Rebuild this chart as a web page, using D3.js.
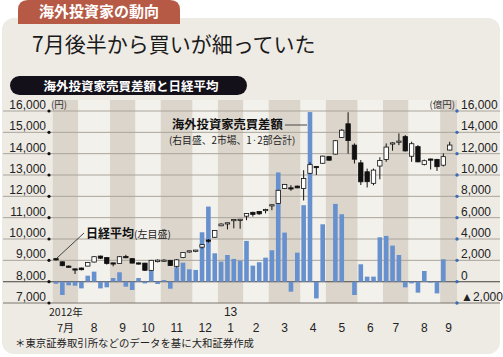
<!DOCTYPE html>
<html><head><meta charset="utf-8">
<script src="https://cdn.jsdelivr.net/npm/d3@7"></script>
<style>
body{margin:0;background:#fff;}
text{font-family:"Liberation Sans","Noto Sans CJK JP",sans-serif;}
.jp{font-family:"Noto Sans CJK JP",sans-serif;}
</style></head>
<body>
<script>
// ---- data (weekly, from week ending 2012-07-06 to 2013-09-13) ----
const weeks = ["2012-07-06","07-13","07-20","07-27","08-03","08-10","08-17","08-24","08-31","09-07","09-14","09-21","09-28","10-05","10-12","10-19","10-26","11-02","11-09","11-16","11-22","11-30","12-07","12-14","12-21","12-28","2013-01-04","01-11","01-18","01-25","02-01","02-08","02-15","02-22","03-01","03-08","03-15","03-22","03-29","04-05","04-12","04-19","04-26","05-02","05-10","05-17","05-24","05-31","06-07","06-14","06-21","06-28","07-05","07-12","07-19","07-26","08-02","08-09","08-16","08-23","08-30","09-06","09-13"];
const nikkeiOpen  = [9080,8930,8730,8600,8640,8730,8920,9200,9130,8880,8850,9180,9080,8880,8870,8530,8940,8970,9000,8720,9130,9440,9470,9620,9950,10080,10620,10750,10900,10910,11070,11250,11290,11370,11600,11670,12370,12400,12480,12370,13080,13400,13550,13860,13980,14760,15400,14400,13570,13150,12610,13420,13730,14480,14580,14800,13880,14330,13500,13750,13730,13460,14170];
const nikkeiHigh  = [9100,8950,8760,8610,8660,8920,9200,9220,9150,8890,9190,9260,9100,8900,8880,9020,9040,9050,9010,9060,9380,9460,9490,9750,10000,10420,10740,10770,10930,10940,11210,11280,11310,11420,11620,12300,12580,12526,12500,13225,13600,13420,13910,13880,14640,15150,15942,14480,13700,13300,13300,13830,14480,14540,14950,14870,14560,14400,13720,13770,13760,14010,14560];
const nikkeiLow   = [8990,8720,8650,8360,8530,8720,8900,9060,8800,8720,8840,9100,8860,8800,8500,8510,8900,8930,8740,8660,9100,9360,9380,9550,9830,10050,10600,10450,10500,10480,10880,11050,11130,11200,11350,11650,12340,12260,12380,11805,13030,13000,13520,13670,13960,14740,14000,13540,12530,12415,12520,12800,13620,14140,14400,14100,13620,13600,13450,13260,13190,13400,14150];
const nikkeiClose = [9020,8750,8690,8590,8560,8900,9170,9100,8850,8870,9170,9120,8870,8863,8534,9000,9010,9010,8757,9024,9366,9446,9480,9737,9900,10395,10700,10760,10913,10926,11191,11153,11180,11385,11606,12283,12560,12390,12397,12833,13485,13390,13884,13694,14607,15100,14612,13740,12680,12686,13230,13677,14309,14506,14589,14129,14466,13615,13670,13740,13389,13860,14404];
// foreign investors' net buying (100 million yen); last week not yet published
const foreignNet = [-200,-1250,-340,-380,-630,560,940,-630,-530,340,880,-470,-780,340,-160,1030,-220,150,-660,1350,1780,1160,1100,4630,7040,2660,1880,2500,2130,1970,3820,1500,1820,2250,2940,10240,4600,-940,2720,7170,15900,-1570,5380,0,7290,6320,0,-1250,1630,470,470,4160,4290,3380,2500,-530,-160,-1030,1000,-90,-1100,2100,null];
// month blocks: label and index of first week in each month
const monthLabels = ["7月","8","9","10","11","12","1","2","3","4","5","6","7","8","9"];
const monthStart  = [0,4,9,13,17,22,26,30,34,39,43,48,52,56,61];
const leftTicks  = [7000,8000,9000,10000,11000,12000,13000,14000,15000,16000];
const rightTicks = [-2000,0,2000,4000,6000,8000,10000,12000,14000,16000];

const fmt = d3.format(",");
const W = 503, H = 357;
const svg = d3.select("body").append("svg").attr("width", W).attr("height", H);

// panel
svg.append("rect").attr("x",2).attr("y",18).attr("width",498).attr("height",336).attr("rx",12).attr("fill","#eeebe5");
// tab
svg.append("path").attr("d","M18,24 L18,10 Q18,0 28,0 L170,0 Q180,0 180,10 L180,24 Z").attr("fill","#b65a45");
svg.append("text").attr("class","jp").attr("x",99).attr("y",17).attr("text-anchor","middle")
  .attr("fill","#fff").attr("font-weight","bold").attr("font-size",15).text("海外投資家の動向");
// title
svg.append("text").attr("class","jp").attr("x",32).attr("y",52).attr("fill","#1a1a1a")
  .attr("font-size",21).text("7月後半から買いが細っていた");
// black pill
svg.append("rect").attr("x",10).attr("y",76).attr("width",237).attr("height",19).attr("rx",9.5).attr("fill","#14101a");
svg.append("text").attr("class","jp").attr("x",131).attr("y",90.5).attr("text-anchor","middle")
  .attr("fill","#fff").attr("font-weight","bold").attr("font-size",12.5).text("海外投資家売買差額と日経平均");

// scales
const x = d3.scaleLinear().domain([0, 62]).range([56, 449.7]);
const yL = d3.scaleLinear().domain([7000, 16000]).range([303, 111]);
const yR = d3.scaleLinear().domain([-2000, 16000]).range([303, 111]);
const plotTop = 100, plotBottom = 303, plotRight = 457;

// month bands
const g = svg.append("g");
monthStart.forEach((s, k) => {
  const x0 = x(s - 0.5);
  const x1 = k < monthStart.length - 1 ? x(monthStart[k+1] - 0.5) : plotRight;
  g.append("rect").attr("x", x0).attr("y", plotTop).attr("width", x1 - x0).attr("height", plotBottom - plotTop)
    .attr("fill", k % 2 === 0 ? "#dcd5cb" : "#f3f1ec");
});

// gridlines
leftTicks.forEach(v => {
  g.append("line").attr("x1",3).attr("x2",500).attr("y1",yL(v)).attr("y2",yL(v))
    .attr("stroke", v === 7000 ? "#7a756e" : "#aaa49b").attr("stroke-width",1);
});
// zero line of right axis
g.append("line").attr("x1",3).attr("x2",500).attr("y1",yR(0)).attr("y2",yR(0)).attr("stroke","#6e6a66").attr("stroke-width",1.2);

// bars
const bw = 4.6;
g.selectAll(".bar").data(foreignNet.map((v,i)=>({v,i})).filter(d=>d.v!==null && d.v!==0))
  .enter().append("rect")
  .attr("x", d => x(d.i) - bw/2)
  .attr("y", d => Math.min(yR(d.v), yR(0)))
  .attr("width", bw)
  .attr("height", d => Math.abs(yR(d.v) - yR(0)))
  .attr("fill", "#6790cf");

// candlesticks
const cw = 4.4;
const candles = nikkeiOpen.map((o,i)=>({i,o,h:nikkeiHigh[i],l:nikkeiLow[i],c:nikkeiClose[i]}));
const cg = g.selectAll(".c").data(candles).enter().append("g");
cg.append("line").attr("x1",d=>x(d.i)).attr("x2",d=>x(d.i))
  .attr("y1",d=>yL(d.h)).attr("y2",d=>yL(d.l)).attr("stroke","#111").attr("stroke-width",1);
cg.append("rect")
  .attr("x",d=>x(d.i)-cw/2)
  .attr("y",d=>yL(Math.max(d.o,d.c)))
  .attr("width",cw)
  .attr("height",d=>Math.max(1.2, Math.abs(yL(d.o)-yL(d.c))))
  .attr("fill",d=>d.c>=d.o ? "#fff" : "#111")
  .attr("stroke","#111").attr("stroke-width",0.8);

// annotations
svg.append("text").attr("class","jp").attr("x",172).attr("y",129).attr("font-weight","bold")
  .attr("font-size",12.3).attr("fill","#111").text("海外投資家売買差額");
svg.append("line").attr("x1",285).attr("x2",307).attr("y1",125).attr("y2",125).attr("stroke","#333").attr("stroke-width",0.9);
svg.append("text").attr("class","jp").attr("x",169).attr("y",144).attr("font-size",9.8)
  .attr("fill","#222").text("(右目盛、2市場、1·2部合計)");
svg.append("text").attr("class","jp").attr("x",86).attr("y",238).attr("font-weight","bold")
  .attr("font-size",12).attr("fill","#111").text("日経平均");
svg.append("text").attr("class","jp").attr("x",134).attr("y",238).attr("font-size",10)
  .attr("fill","#222").text("(左目盛)");
svg.append("line").attr("x1",84).attr("y1",233).attr("x2",57).attr("y2",258).attr("stroke","#333").attr("stroke-width",0.9);

// left axis labels
leftTicks.forEach(v => {
  svg.append("text").attr("x",46).attr("y",yL(v)-2).attr("text-anchor","end")
    .attr("font-size",12).attr("fill","#222").text(fmt(v));
  svg.append("circle").attr("cx",49).attr("cy",yL(v)).attr("r",1.6).attr("fill","#111");
});
svg.append("text").attr("class","jp").attr("x",51).attr("y",108).attr("font-size",9.5).attr("fill","#333").text("(円)");
// right axis labels
rightTicks.forEach(v => {
  svg.append("text").attr("x",461).attr("y",yR(v)-2).attr("text-anchor","start")
    .attr("font-size",12).attr("fill","#222").text(v < 0 ? "▲" + fmt(-v) : fmt(v));
  svg.append("circle").attr("cx",457).attr("cy",yR(v)).attr("r",1.7).attr("fill","#3a6db5");
});
svg.append("text").attr("class","jp").attr("x",455).attr("y",108).attr("text-anchor","end").attr("font-size",9.5).attr("fill","#333").text("(億円)");

// x labels
monthStart.forEach((s,k) => {
  const x0 = x(s - 0.5);
  const x1 = k < monthStart.length - 1 ? x(monthStart[k+1] - 0.5) : plotRight;
  svg.append("text").attr("class", k===0 ? "jp" : null).attr("x",(x0+x1)/2).attr("y",332).attr("text-anchor","middle")
    .attr("font-size", k===0 ? 11 : 12).attr("fill","#222").text(monthLabels[k]);
});
svg.append("text").attr("class","jp").attr("x",49).attr("y",316).attr("font-size",10.5).attr("fill","#222").text("2012年");
{
  const k = 6, x0 = x(monthStart[k]-0.5), x1 = x(monthStart[k+1]-0.5);
  svg.append("text").attr("x",(x0+x1)/2).attr("y",316).attr("text-anchor","middle").attr("font-size",12).attr("fill","#222").text("13");
}
// footnote
svg.append("text").attr("class","jp").attr("x",15).attr("y",347).attr("font-size",10.4).attr("fill","#222")
  .text("＊東京証券取引所などのデータを基に大和証券作成");
</script>
</body></html>
